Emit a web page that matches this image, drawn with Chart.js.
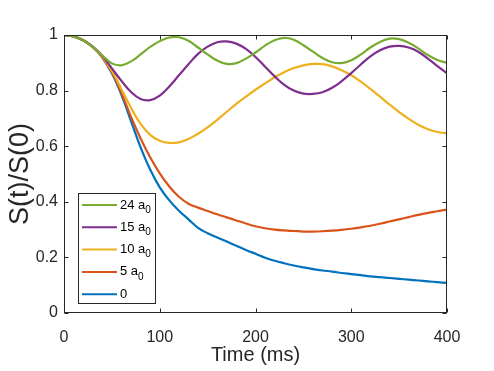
<!DOCTYPE html>
<html>
<head>
<meta charset="utf-8">
<script src="https://cdn.jsdelivr.net/npm/chart.js@4.4.1/dist/chart.umd.min.js"></script>
<style>
  html, body { margin: 0; padding: 0; background: #fff; }
  #wrap { width: 494px; height: 371px; position: relative; }
</style>
</head>
<body>
<div id="wrap"><canvas id="chart"></canvas></div>
<script>
(function () {
  'use strict';

  // time axis (ms)
  var times = [0, 10, 20, 30, 40, 50, 60, 70, 80, 90, 100, 110, 120, 130, 140, 150, 160, 170, 180, 190,
    200, 210, 220, 230, 240, 250, 260, 270, 280, 290, 300, 310, 320, 330, 340, 350, 360, 370, 380, 390, 400];

  // S(t)/S(0)
  var s24 = [1.0, 0.995, 0.981, 0.957, 0.926, 0.898, 0.891, 0.905, 0.93, 0.957, 0.978, 0.991, 0.992,
    0.979, 0.955, 0.93, 0.908, 0.896, 0.899, 0.915, 0.937, 0.962, 0.981, 0.99, 0.983, 0.963, 0.94,
    0.917, 0.902, 0.899, 0.909, 0.93, 0.955, 0.975, 0.987, 0.985, 0.972, 0.952, 0.928, 0.91, 0.9];
  var s15 = [1.0, 0.995, 0.981, 0.958, 0.925, 0.88, 0.835, 0.795, 0.77, 0.766, 0.782, 0.815, 0.855,
    0.895, 0.932, 0.958, 0.974, 0.977, 0.969, 0.95, 0.921, 0.886, 0.851, 0.821, 0.8, 0.789, 0.788,
    0.794, 0.81, 0.834, 0.863, 0.894, 0.923, 0.945, 0.958, 0.961, 0.955, 0.94, 0.915, 0.888, 0.862];
  var s10 = [1.0, 0.995, 0.981, 0.957, 0.922, 0.872, 0.805, 0.738, 0.68, 0.641, 0.62, 0.612, 0.614,
    0.626, 0.645, 0.668, 0.695, 0.724, 0.752, 0.778, 0.803, 0.826, 0.848, 0.866, 0.881, 0.891, 0.896,
    0.895, 0.887, 0.873, 0.855, 0.832, 0.806, 0.778, 0.75, 0.723, 0.698, 0.677, 0.661, 0.651, 0.646];
  var s5 = [1.0, 0.995, 0.981, 0.957, 0.92, 0.866, 0.792, 0.705, 0.628, 0.56, 0.502, 0.455, 0.418,
    0.393, 0.379, 0.367, 0.355, 0.344, 0.333, 0.322, 0.312, 0.305, 0.3, 0.297, 0.295, 0.293, 0.293,
    0.294, 0.296, 0.299, 0.303, 0.308, 0.314, 0.321, 0.329, 0.337, 0.345, 0.353, 0.36, 0.366, 0.372];
  var s0 = [1.0, 0.995, 0.981, 0.957, 0.919, 0.862, 0.785, 0.69, 0.596, 0.516, 0.452, 0.405, 0.368,
    0.337, 0.306, 0.287, 0.272, 0.257, 0.242, 0.227, 0.213, 0.199, 0.188, 0.179, 0.171, 0.164, 0.158,
    0.153, 0.149, 0.144, 0.14, 0.136, 0.132, 0.129, 0.126, 0.123, 0.12, 0.117, 0.114, 0.111, 0.108];

  var seriesNames = ['24 a\u2080', '15 a\u2080', '10 a\u2080', '5 a\u2080', '0'];
  var seriesData = [s24, s15, s10, s5, s0];
  var seriesColors = ['#77AC30', '#7E2F8E', '#EDB120', '#D95319', '#0072BD'];

  var xTicks = [0, 100, 200, 300, 400];
  var yTicks = [0, 0.2, 0.4, 0.6, 0.8, 1];

  var font = "'Liberation Sans', Arial, Helvetica, sans-serif";
  var axisColor = '#262626';

  function points(arr) {
    return arr.map(function (v, i) { return { x: times[i], y: v }; });
  }

  // MATLAB-like box with inward ticks on all four sides
  var axesBox = {
    id: 'axesBox',
    afterDatasetsDraw: function (chart) {
      var ctx = chart.ctx, a = chart.chartArea;
      var x = chart.scales.x, y = chart.scales.y;
      var L = Math.round(a.left) + 0.5, R = Math.round(a.right) - 0.5;
      var T = Math.round(a.top) + 0.5, B = Math.round(a.bottom) - 0.5;
      ctx.save();
      ctx.strokeStyle = axisColor;
      ctx.lineWidth = 1;
      ctx.strokeRect(L, T, R - L, B - T);
      ctx.beginPath();
      xTicks.forEach(function (v) {
        var px = Math.round(x.getPixelForValue(v)) + 0.5;
        ctx.moveTo(px, B); ctx.lineTo(px, B - 4);
        ctx.moveTo(px, T); ctx.lineTo(px, T + 4);
      });
      yTicks.forEach(function (v) {
        var py = Math.round(y.getPixelForValue(v)) + 0.5;
        ctx.moveTo(L, py); ctx.lineTo(L + 4, py);
        ctx.moveTo(R, py); ctx.lineTo(R - 4, py);
      });
      ctx.stroke();
      ctx.restore();
    }
  };

  // legend box in lower-left corner, with subscripts
  var boxLegend = {
    id: 'boxLegend',
    afterDraw: function (chart) {
      var ctx = chart.ctx, a = chart.chartArea;
      var bx = a.left + 14, by = a.bottom - 120, bw = 77, bh = 110;
      ctx.save();
      ctx.fillStyle = '#fff';
      ctx.fillRect(bx, by, bw, bh);
      ctx.strokeStyle = axisColor;
      ctx.lineWidth = 1;
      ctx.strokeRect(Math.round(bx) + 0.5, Math.round(by) + 0.5, bw, bh);
      chart.data.datasets.forEach(function (ds, i) {
        var ry = by + 12 + i * 22.3;
        ctx.strokeStyle = ds.borderColor;
        ctx.lineWidth = 2;
        ctx.beginPath();
        ctx.moveTo(bx + 4, ry); ctx.lineTo(bx + 39, ry);
        ctx.stroke();
        ctx.fillStyle = '#000';
        ctx.textBaseline = 'middle';
        ctx.textAlign = 'left';
        var parts = ds.label.split('\u2080');
        ctx.font = '13px ' + font;
        ctx.fillText(parts[0], bx + 42, ry);
        if (parts.length > 1) {
          var w = ctx.measureText(parts[0]).width;
          ctx.font = '10px ' + font;
          ctx.fillText('0', bx + 42 + w, ry + 5);
        }
      });
      ctx.restore();
    }
  };

  new Chart(document.getElementById('chart').getContext('2d'), {
    type: 'line',
    data: {
      datasets: seriesData.map(function (arr, i) {
        return {
          label: seriesNames[i],
          data: points(arr),
          borderColor: seriesColors[i],
          backgroundColor: seriesColors[i],
          borderWidth: 2.2,
          pointRadius: 0,
          tension: 0.4,
          fill: false
        };
      })
    },
    options: {
      responsive: true,
      maintainAspectRatio: false,
      animation: false,
      layout: { padding: { top: 35, right: 47, left: 0, bottom: 0 } },
      plugins: { legend: { display: false }, tooltip: { enabled: false } },
      scales: {
        x: {
          type: 'linear',
          min: 0, max: 400,
          afterFit: function (s) { s.height = 58; },
          afterBuildTicks: function (s) { s.ticks = xTicks.map(function (v) { return { value: v }; }); },
          grid: { display: false, drawTicks: false },
          border: { display: false },
          ticks: { color: axisColor, font: { family: font, size: 16 }, padding: 15, maxRotation: 0 },
          title: { display: true, text: 'Time (ms)', color: axisColor, font: { family: font, size: 20 }, padding: { top: 4 } }
        },
        y: {
          type: 'linear',
          min: 0, max: 1,
          afterFit: function (s) { s.width = 64; },
          afterBuildTicks: function (s) { s.ticks = yTicks.map(function (v) { return { value: v }; }); },
          grid: { display: false, drawTicks: false },
          border: { display: false },
          ticks: {
            color: axisColor, font: { family: font, size: 16 }, padding: 6,
            callback: function (v) { return String(Math.round(v * 10) / 10); }
          },
          title: { display: true, text: 'S(t)/S(0)', color: axisColor, font: { family: font, size: 27 }, padding: { bottom: 0 } }
        }
      }
    },
    plugins: [axesBox, boxLegend]
  });
})();
</script>
</body>
</html>
